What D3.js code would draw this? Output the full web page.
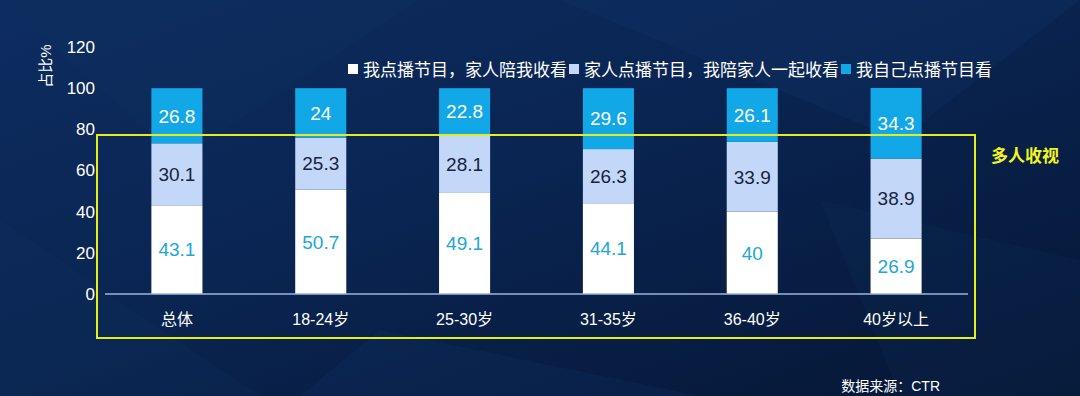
<!DOCTYPE html>
<html>
<head>
<meta charset="utf-8">
<script src="https://cdn.jsdelivr.net/npm/d3@7"></script>
<style>
  html, body { margin: 0; padding: 0; background: #071d45; }
  svg { display: block; }
</style>
</head>
<body>
<svg id="chart" width="1080" height="396"></svg>
<script>
const categories = ['总体', '18-24岁', '25-30岁', '31-35岁', '36-40岁', '40岁以上']
const seriesNames = ['我点播节目，家人陪我收看', '家人点播节目，我陪家人一起收看', '我自己点播节目看']
const selfPick = [43.1, 50.7, 49.1, 44.1, 40, 26.9]
const familyPick = [30.1, 25.3, 28.1, 26.3, 33.9, 38.9]
const alone = [26.8, 24, 22.8, 29.6, 26.1, 34.3]
const yTicks = [0, 20, 40, 60, 80, 100, 120]

const colors = ['#ffffff', '#c3d8f8', '#12a7e6']
const labelColors = ['#22a6d6', '#17233f', '#ffffff']
const FONT = '"Liberation Sans", "Noto Sans CJK SC", sans-serif'

const svg = d3.select('#chart')
const W = 1080
const H = 396

// background
const defs = svg.append('defs')
const bg = defs.append('linearGradient').attr('id', 'bg')
  .attr('x1', '0').attr('y1', '0').attr('x2', '1').attr('y2', '1')
bg.append('stop').attr('offset', '0%').attr('stop-color', '#0d2c60')
bg.append('stop').attr('offset', '45%').attr('stop-color', '#0a2552')
bg.append('stop').attr('offset', '100%').attr('stop-color', '#051634')
svg.append('rect').attr('width', W).attr('height', H).attr('fill', 'url(#bg)')

// faint facets in the backdrop
const facets = [
  [[0, 0], [420, 0], [180, 160]],
  [[560, 0], [1080, 0], [900, 140]],
  [[0, 220], [260, 396], [0, 396]],
  [[380, 330], [700, 396], [300, 396]],
  [[820, 200], [1080, 260], [1080, 396], [900, 396]]
]
svg.append('g').selectAll('path').data(facets).join('path')
  .attr('d', d => d3.line()(d) + 'Z')
  .attr('fill', (d, i) => i % 2 ? '#1a3f7a' : '#123566')
  .attr('opacity', 0.16)

const margin = { left: 105, right: 112, top: 47, bottom: 102 }
const x = d3.scaleBand()
  .domain(categories)
  .range([margin.left, W - margin.right])
  .paddingInner(0.645)
  .paddingOuter(0.3225)
const y = d3.scaleLinear().domain([0, 120]).range([H - margin.bottom, margin.top])

// y axis labels
const yAxis = svg.append('g')
  .attr('transform', `translate(${margin.left - 10},0)`)
  .call(d3.axisLeft(y).tickValues(yTicks).tickSize(0).tickPadding(0))
yAxis.select('.domain').remove()
yAxis.selectAll('text')
  .attr('fill', '#ffffff')
  .attr('font-family', FONT)
  .attr('font-size', 17)

svg.append('text')
  .attr('transform', 'translate(51,66) rotate(-90)')
  .attr('text-anchor', 'middle')
  .attr('fill', '#ffffff')
  .attr('font-family', FONT)
  .attr('font-size', 15)
  .text('占比%')

// stacked bars
const rows = categories.map((c, i) => ({ cat: c, s0: selfPick[i], s1: familyPick[i], s2: alone[i] }))
const stacked = d3.stack().keys(['s0', 's1', 's2'])(rows)

const layers = svg.append('g').selectAll('g').data(stacked).join('g')
  .attr('fill', (d, i) => colors[i])
layers.selectAll('rect').data(d => d).join('rect')
  .attr('x', d => x(d.data.cat))
  .attr('width', x.bandwidth())
  .attr('y', d => y(d[1]))
  .attr('height', d => y(d[0]) - y(d[1]))

svg.append('g').selectAll('g').data(stacked).join('g')
  .attr('fill', (d, i) => labelColors[i])
  .selectAll('text').data(d => d).join('text')
  .attr('x', d => x(d.data.cat) + x.bandwidth() / 2)
  .attr('y', d => (y(d[0]) + y(d[1])) / 2)
  .attr('dy', '0.36em')
  .attr('text-anchor', 'middle')
  .attr('font-family', FONT)
  .attr('font-size', 19)
  .text(d => d3.format('~')(+(d[1] - d[0]).toFixed(1)))

// baseline
svg.append('line')
  .attr('x1', margin.left).attr('x2', W - margin.right)
  .attr('y1', y(0)).attr('y2', y(0))
  .attr('stroke', '#9db5d8').attr('stroke-width', 1.5)

// x axis labels
const xAxis = svg.append('g')
  .attr('transform', `translate(0,${y(0)})`)
  .call(d3.axisBottom(x).tickSize(0).tickPadding(20))
xAxis.select('.domain').remove()
xAxis.selectAll('text')
  .attr('fill', '#ffffff')
  .attr('font-family', FONT)
  .attr('font-size', 16)

// yellow highlight box
svg.append('rect')
  .attr('x', 97).attr('y', 135)
  .attr('width', 878).attr('height', 203)
  .attr('fill', 'none')
  .attr('stroke', '#e4ee1c').attr('stroke-width', 2)

svg.append('text')
  .attr('x', 991).attr('y', 162)
  .attr('fill', '#f2f51e')
  .attr('font-family', FONT)
  .attr('font-weight', 'bold')
  .attr('font-size', 17)
  .text('多人收视')

// legend
const legend = svg.append('g').attr('transform', 'translate(348,70)')
let lx = 0
seriesNames.forEach((name, i) => {
  const g = legend.append('g').attr('transform', `translate(${lx},0)`)
  g.append('rect').attr('x', 0).attr('y', -6).attr('width', 10).attr('height', 10)
    .attr('fill', colors[i])
  const t = g.append('text')
    .attr('x', 15).attr('y', 0)
    .attr('dy', '0.35em')
    .attr('fill', '#ffffff')
    .attr('font-family', FONT)
    .attr('font-size', 17)
    .text(name)
  lx += 15 + t.node().getComputedTextLength() + 2
})

// source
svg.append('text')
  .attr('x', 940).attr('y', 391)
  .attr('text-anchor', 'end')
  .attr('fill', '#ffffff')
  .attr('font-family', FONT)
  .attr('font-size', 14)
  .text('数据来源：CTR')
</script>
</body>
</html>
